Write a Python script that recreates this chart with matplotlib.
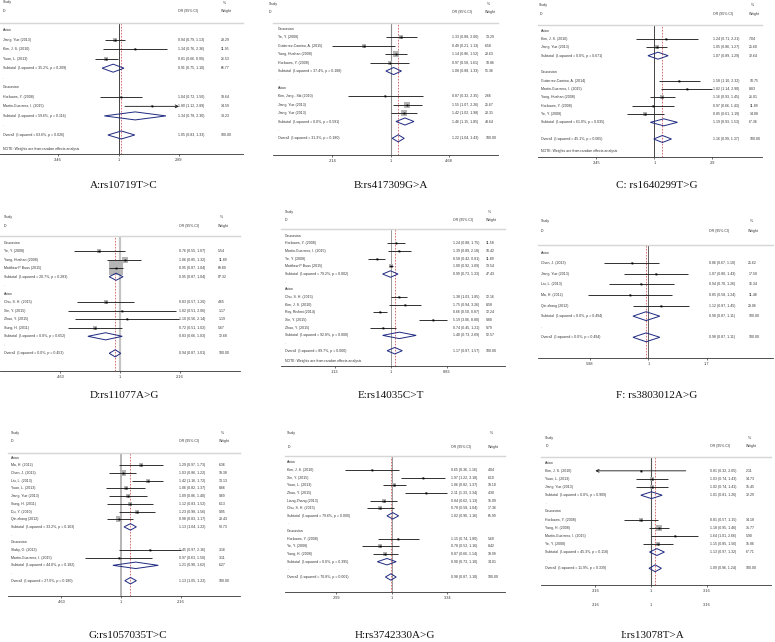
import numpy as np
import matplotlib
matplotlib.use("Agg")
import matplotlib.pyplot as plt
from matplotlib.patches import Polygon
from matplotlib.transforms import blended_transform_factory

plt.rcParams['font.family'] = ['Liberation Sans', 'DejaVu Sans']

# ---------------- DATA ----------------
# A: rs10719T>C
A_study = ["Jiang, Yue (2013)", "Kim, J. S. (2010)", "Yuan, L. (2013)",
           "Horikawa, Y. (2008)", "Martin-Guerrero, I. (2015)"]
A_group = ["Asian", "Asian", "Asian", "Caucasian", "Caucasian"]
A_or = [0.94, 1.34, 0.81, 1.04, 1.80]
A_lo = [0.79, 0.76, 0.66, 0.72, 1.12]
A_hi = [1.13, 2.36, 0.99, 1.50, 2.89]
A_wt = [28.29, 11.95, 26.53, 18.64, 14.59]
A_sub_or = [0.91, 1.34]
A_sub_lo = [0.75, 0.78]
A_sub_hi = [1.10, 2.30]
A_sub_wt = [66.77, 33.23]
A_sub_i2 = [35.2, 59.6]
A_sub_p = [0.209, 0.116]
A_all = [1.05, 0.83, 1.33]
A_all_i2, A_all_p = 63.6, 0.026
A_ticks = [0.346, 1, 2.89]
A_ticklabels = [".346", "1", "2.89"]

# B: rs417309G>A
B_study = ["Ye, Y. (2008)", "Gutierrez-Camino, A. (2015)", "Yang, Huahan (2008)",
           "Horikawa, Y. (2008)", "Kim, Jong - Sik (2010)", "Jiang, Yue (2013)",
           "Jiang, Yue (2013)"]
B_group = ["Caucasian"] * 4 + ["Asian"] * 3
B_or = [1.33, 0.49, 1.14, 0.97, 0.87, 1.55, 1.42]
B_lo = [0.88, 0.21, 0.86, 0.58, 0.32, 1.07, 1.02]
B_hi = [2.00, 1.13, 1.52, 1.61, 2.35, 2.26, 1.98]
B_wt = [13.29, 6.58, 20.63, 10.86, 2.66, 25.67, 20.31]
B_sub_or = [1.08, 1.46]
B_sub_lo = [0.88, 1.15]
B_sub_hi = [1.33, 1.85]
B_sub_wt = [51.36, 48.64]
B_sub_i2 = [37.4, 0.0]
B_sub_p = [0.188, 0.591]
B_all = [1.22, 1.04, 1.43]
B_all_i2, B_all_p = 31.3, 0.180
B_ticks = [0.214, 1, 4.68]
B_ticklabels = [".214", "1", "4.68"]

# C: rs1640299T>G
C_study = ["Kim, J. S. (2010)", "Jiang, Yue (2013)", "Gutierrez-Camino, A. (2014)",
           "Martin-Guerrero, I. (2015)", "Yang, Huahan (2008)", "Horikawa, Y. (2008)",
           "Ye, Y. (2008)"]
C_group = ["Asian"] * 2 + ["Caucasian"] * 5
C_or = [1.24, 1.05, 1.58, 1.82, 1.16, 0.97, 0.85]
C_lo = [0.71, 0.86, 1.10, 1.14, 0.93, 0.66, 0.61]
C_hi = [2.21, 1.27, 2.32, 2.90, 1.45, 1.43, 1.19]
C_wt = [7.04, 25.60, 10.75, 8.83, 21.01, 11.89, 14.88]
C_sub_or = [1.07, 1.19]
C_sub_lo = [0.89, 0.93]
C_sub_hi = [1.29, 1.53]
C_sub_wt = [32.64, 67.36]
C_sub_i2 = [0.0, 61.0]
C_sub_p = [0.671, 0.035]
C_all = [1.16, 0.99, 1.37]
C_all_i2, C_all_p = 45.1, 0.065
C_ticks = [0.345, 1, 2.9]
C_ticklabels = [".345", "1", "2.9"]

# D: rs11077A>G
D_study = ["Ye, Y. (2008)", "Yang, Huahan (2008)", "Matthew P Buas (2015)",
           "Chu, S. H. (2015)", "Xie, Y. (2015)", "Zhao, Y. (2015)", "Sung, H. (2011)"]
D_group = ["Caucasian"] * 3 + ["Asian"] * 4
D_or = [0.76, 1.06, 0.95, 0.83, 1.02, 1.10, 0.72]
D_lo = [0.55, 0.85, 0.87, 0.57, 0.51, 0.56, 0.51]
D_hi = [1.07, 1.32, 1.04, 1.20, 2.06, 2.14, 1.02]
D_wt = [5.54, 11.89, 69.89, 4.65, 1.17, 1.19, 5.67]
D_sub_or = [0.95, 0.83]
D_sub_lo = [0.87, 0.66]
D_sub_hi = [1.04, 1.03]
D_sub_wt = [87.32, 12.68]
D_sub_i2 = [20.7, 0.0]
D_sub_p = [0.283, 0.652]
D_all = [0.94, 0.87, 1.01]
D_all_i2, D_all_p = 0.0, 0.453
D_ticks = [0.463, 1, 2.16]
D_ticklabels = [".463", "1", "2.16"]

# E: rs14035C>T
E_study = ["Horikawa, Y. (2008)", "Martin-Guerrero, I. (2015)", "Ye, Y. (2008)",
           "Matthew P Buas (2015)", "Chu, S. H. (2015)", "Kim, J. S. (2010)",
           "Roy, Rishmi (2014)", "Xie, Y. (2015)", "Zhao, Y. (2015)"]
E_group = ["Caucasian"] * 4 + ["Asian"] * 5
E_or = [1.24, 1.39, 0.58, 1.00, 1.38, 1.75, 0.66, 5.19, 0.74]
E_lo = [0.88, 0.89, 0.42, 0.92, 1.03, 0.94, 0.50, 3.06, 0.45]
E_hi = [1.75, 2.18, 0.81, 1.09, 1.85, 3.26, 0.87, 8.80, 1.21]
E_wt = [11.58, 10.42, 11.89, 13.54, 12.16, 8.58, 12.24, 9.80, 9.79]
E_sub_or = [0.99, 1.40]
E_sub_lo = [0.73, 0.73]
E_sub_hi = [1.33, 2.69]
E_sub_wt = [47.43, 52.57]
E_sub_i2 = [79.2, 92.8]
E_sub_p = [0.002, 0.000]
E_all = [1.17, 0.87, 1.57]
E_all_i2, E_all_p = 89.7, 0.000
E_ticks = [0.113, 1, 8.83]
E_ticklabels = [".113", "1", "8.83"]

# F: rs3803012A>G
F_study = ["Chen, J. (2013)", "Jiang, Yue (2013)", "Liu, L. (2013)",
           "Ma, H. (2012)", "Qin zhang (2012)"]
F_group = ["Asian"] * 5
F_or = [0.86, 1.07, 0.94, 0.85, 1.12]
F_lo = [0.67, 0.80, 0.70, 0.58, 0.87]
F_hi = [1.10, 1.43, 1.26, 1.24, 1.45]
F_wt = [25.62, 17.50, 16.34, 11.48, 29.06]
F_sub_or = [0.98]
F_sub_lo = [0.87]
F_sub_hi = [1.11]
F_sub_wt = [100.00]
F_sub_i2 = [0.0]
F_sub_p = [0.494]
F_all = [0.98, 0.87, 1.11]
F_all_i2, F_all_p = 0.0, 0.494
F_ticks = [0.588, 1, 1.7]
F_ticklabels = [".588", "1", "1.7"]

# G: rs1057035T>C
G_study = ["Ma, H. (2012)", "Chen, J. (2013)", "Liu, L. (2013)", "Yuan, L. (2013)",
           "Jiang, Yue (2013)", "Sung, H. (2011)", "Du, Y. (2010)", "Qin zhang (2012)",
           "Slaby, O. (2013)", "Martin-Guerrero, I. (2015)"]
G_group = ["Asian"] * 8 + ["Caucasian"] * 2
G_or = [1.29, 1.03, 1.42, 1.06, 1.09, 1.12, 1.23, 0.98, 1.45, 0.97]
G_lo = [0.97, 0.86, 1.16, 0.82, 0.86, 0.83, 0.98, 0.83, 0.97, 0.63]
G_hi = [1.73, 1.22, 1.72, 1.37, 1.40, 1.52, 1.56, 1.17, 2.16, 1.50]
G_wt = [6.36, 19.38, 13.13, 8.66, 9.69, 6.13, 9.95, 20.43, 3.16, 3.11]
G_sub_or = [1.13, 1.21]
G_sub_lo = [1.04, 0.90]
G_sub_hi = [1.22, 1.62]
G_sub_wt = [93.73, 6.27]
G_sub_i2 = [33.2, 44.0]
G_sub_p = [0.163, 0.182]
G_all = [1.13, 1.05, 1.22]
G_all_i2, G_all_p = 27.0, 0.180
G_ticks = [0.463, 1, 2.16]
G_ticklabels = [".463", "1", "2.16"]

# H: rs3742330A>G
H_study = ["Kim, J. S. (2010)", "Xie, Y. (2015)", "Yuan, L. (2013)", "Zhao, Y. (2015)",
           "Liang Zhang (2013)", "Chu, S. H. (2015)", "Horikawa, Y. (2008)",
           "Ye, Y. (2008)", "Yang, H. (2008)"]
H_group = ["Asian"] * 6 + ["Caucasian"] * 3
H_or = [0.65, 1.97, 1.06, 2.11, 0.84, 0.78, 1.15, 0.78, 0.87]
H_lo = [0.36, 1.22, 0.82, 1.33, 0.62, 0.58, 0.74, 0.52, 0.66]
H_hi = [1.16, 3.18, 1.37, 3.34, 1.13, 1.04, 1.80, 1.16, 1.14]
H_wt = [4.04, 6.10, 19.10, 4.30, 15.09, 17.36, 5.60, 8.42, 19.99]
H_sub_or = [1.02, 0.90]
H_sub_lo = [0.90, 0.73]
H_sub_hi = [1.16, 1.10]
H_sub_wt = [65.99, 34.01]
H_sub_i2 = [79.6, 0.0]
H_sub_p = [0.000, 0.395]
H_all = [0.98, 0.87, 1.10]
H_all_i2, H_all_p = 70.8, 0.001
H_ticks = [0.299, 1, 3.34]
H_ticklabels = [".299", "1", "3.34"]

# I: rs13078T>A
I_study = ["Kim, J. S. (2010)", "Yuan, L. (2013)", "Jiang, Yue (2013)",
           "Horikawa, Y. (2008)", "Yang, H. (2008)", "Martin-Guerrero, I. (2015)",
           "Ye, Y. (2008)"]
I_group = ["Asian"] * 3 + ["Caucasian"] * 4
I_or = [0.81, 1.03, 1.02, 0.81, 1.18, 1.64, 1.15]
I_lo = [0.32, 0.74, 0.74, 0.57, 0.95, 1.01, 0.85]
I_hi = [2.05, 1.43, 1.41, 1.15, 1.46, 2.66, 1.56]
I_wt = [2.11, 14.73, 15.45, 14.18, 31.77, 5.90, 15.86]
I_sub_or = [1.01, 1.13]
I_sub_lo = [0.81, 0.97]
I_sub_hi = [1.26, 1.32]
I_sub_wt = [32.29, 67.71]
I_sub_i2 = [0.0, 45.3]
I_sub_p = [0.909, 0.118]
I_all = [1.09, 0.96, 1.24]
I_all_i2, I_all_p = 11.9, 0.339
I_ticks = [0.316, 1, 3.16]
I_ticklabels = [".316", "1", "3.16"]

TITLES = ["A:rs10719T>C", "B:rs417309G>A", "C: rs1640299T>G",
          "D:rs11077A>G", "E:rs14035C>T", "F: rs3803012A>G",
          "G:rs1057035T>C", "H:rs3742330A>G", "I:rs13078T>A"]
NOTE = "NOTE: Weights are from random effects analysis"

DATA = {
    'A': (A_study, A_group, A_or, A_lo, A_hi, A_wt, A_sub_or, A_sub_lo, A_sub_hi, A_sub_wt, A_sub_i2, A_sub_p, A_all, A_all_i2, A_all_p, A_ticks, A_ticklabels),
    'B': (B_study, B_group, B_or, B_lo, B_hi, B_wt, B_sub_or, B_sub_lo, B_sub_hi, B_sub_wt, B_sub_i2, B_sub_p, B_all, B_all_i2, B_all_p, B_ticks, B_ticklabels),
    'C': (C_study, C_group, C_or, C_lo, C_hi, C_wt, C_sub_or, C_sub_lo, C_sub_hi, C_sub_wt, C_sub_i2, C_sub_p, C_all, C_all_i2, C_all_p, C_ticks, C_ticklabels),
    'D': (D_study, D_group, D_or, D_lo, D_hi, D_wt, D_sub_or, D_sub_lo, D_sub_hi, D_sub_wt, D_sub_i2, D_sub_p, D_all, D_all_i2, D_all_p, D_ticks, D_ticklabels),
    'E': (E_study, E_group, E_or, E_lo, E_hi, E_wt, E_sub_or, E_sub_lo, E_sub_hi, E_sub_wt, E_sub_i2, E_sub_p, E_all, E_all_i2, E_all_p, E_ticks, E_ticklabels),
    'F': (F_study, F_group, F_or, F_lo, F_hi, F_wt, F_sub_or, F_sub_lo, F_sub_hi, F_sub_wt, F_sub_i2, F_sub_p, F_all, F_all_i2, F_all_p, F_ticks, F_ticklabels),
    'G': (G_study, G_group, G_or, G_lo, G_hi, G_wt, G_sub_or, G_sub_lo, G_sub_hi, G_sub_wt, G_sub_i2, G_sub_p, G_all, G_all_i2, G_all_p, G_ticks, G_ticklabels),
    'H': (H_study, H_group, H_or, H_lo, H_hi, H_wt, H_sub_or, H_sub_lo, H_sub_hi, H_sub_wt, H_sub_i2, H_sub_p, H_all, H_all_i2, H_all_p, H_ticks, H_ticklabels),
    'I': (I_study, I_group, I_or, I_lo, I_hi, I_wt, I_sub_or, I_sub_lo, I_sub_hi, I_sub_wt, I_sub_i2, I_sub_p, I_all, I_all_i2, I_all_p, I_ticks, I_ticklabels),
}

# ---------------- LAYOUT (pixels) ----------------
LAYOUT = {
    'A': dict(xl=0, xr=243, yh=23, ya=154.3, y0=30, dy=9.545, xn=118.5, s=57.0,
              xh=3, xt=3, xo=178, xw=221, ys=2.5, yi=10.7, lab=(124, 186), k=0.62,
              null=('#444444', 0.7), note=12.5, arrows={4: 'right'}),
    'B': dict(xl=273, xr=498, yh=23, ya=155, y0=29, dy=8.41, xn=390.7, s=37.8,
              xh=269, xt=278, xo=452.3, xw=485.3, ys=4, yi=12, lab=(390.7, 186), k=1.32,
              null=('#8c8c8c', 0.8), note=None, arrows={}),
    'C': dict(xl=537.7, xr=762, yh=24.7, ya=156.7, y0=30.7, dy=8.33, xn=654.3, s=54.5,
              xh=539.3, xt=541, xo=713.3, xw=749.3, ys=5.3, yi=14, lab=(656.7, 186), k=0.8,
              null=('#444444', 0.7), note=14.5, arrows={}),
    'D': dict(xl=0, xr=240, yh=236, ya=371.3, y0=242.7, dy=8.51, xn=120, s=77.3,
              xh=4, xt=4, xo=179, xw=218.3, ys=216.7, yi=225.7, lab=(124, 395), k=1.59,
              null=('#c4c4c4', 1.6), note=None, arrows={}),
    'E': dict(xl=280.7, xr=504.7, yh=229, ya=366, y0=235.7, dy=7.667, xn=390.7, s=25.71,
              xh=284.7, xt=284.7, xo=453, xw=485.7, ys=212, yi=219.7, lab=(391.3, 395), k=0.85,
              null=('#9a9a9a', 0.7), note=16.4, arrows={}),
    'F': dict(xl=537.7, xr=772.5, yh=245, ya=358.3, y0=252.7, dy=10.575, xn=648.3, s=110.0,
              xh=541, xt=541, xo=709.3, xw=748.3, ys=220.7, yi=231, lab=(656.7, 395), k=0.55,
              null=('#444444', 0.6), note=None, arrows={}),
    'G': dict(xl=8.3, xr=240, yh=453.3, ya=595.7, y0=457.7, dy=7.6875, xn=121.0, s=77.3,
              xh=11, xt=11, xo=179.3, xw=219, ys=432.7, yi=441, lab=(127.7, 635), k=1.34,
              null=('#b4b4b4', 1.4), note=None, arrows={}),
    'H': dict(xl=285.3, xr=505.3, yh=456, ya=592.3, y0=462.3, dy=7.647, xn=391.8, s=46.0,
              xh=287.3, xt=287.3, xo=451.3, xw=488, ys=432.7, yi=446.7, lab=(395.3, 635), k=1.07,
              null=('#999999', 0.7), note=None, arrows={}),
    'I': dict(xl=541, xr=771, yh=456.7, ya=585.3, y0=462.7, dy=8.123, xn=651, s=48.35,
              xh=545.3, xt=545.3, xo=710, xw=746, ys=437.7, yi=446, lab=(652.7, 635), k=1.19,
              null=('#555555', 0.8), note=None, arrows={0: 'left'}, tick2=605),
}

W, H = 775, 642
FS = 2.55
TC = '#333333'
LC = '#222222'
DC = '#1f2a80'
BOXC = '#b5b5b5'
fig = plt.figure(figsize=(W / 100, H / 100), dpi=100)
fig.patch.set_facecolor('white')


def fy(py):
    return 1 - py / H


def draw_panel(key, title):
    (study, group, o, lo, hi, wt, s_or, s_lo, s_hi, s_wt, s_i2, s_p,
     tot, t_i2, t_p, ticks, ticklabels) = DATA[key]
    L = LAYOUT[key]
    ax = fig.add_axes([L['xl'] / W, fy(L['ya']), (L['xr'] - L['xl']) / W, (L['ya'] - L['yh']) / H])
    ax.set_xscale('log')
    ax.set_xlim(np.exp((L['xl'] - L['xn']) / L['s']), np.exp((L['xr'] - L['xn']) / L['s']))
    ax.set_ylim((L['ya'] - L['y0']) / L['dy'], (L['yh'] - L['y0']) / L['dy'])
    ax.patch.set_alpha(0)
    for sp in ('left', 'right'):
        ax.spines[sp].set_visible(False)
    ax.spines['top'].set_color('#d6d6d6')
    ax.spines['top'].set_linewidth(1.0)
    ax.spines['bottom'].set_color('#333333')
    ax.spines['bottom'].set_linewidth(0.6)
    ax.set_yticks([])
    ax.set_xticks(ticks)
    ax.set_xticklabels(ticklabels)
    ax.minorticks_off()
    ax.tick_params(axis='x', length=1.6, width=0.5, pad=1.3, labelsize=FS + 0.2,
                   colors='#333333')

    tr = blended_transform_factory(fig.transFigure, ax.transData)

    def txt(px, r, s_):
        ax.text(px / W, r, s_, transform=tr, fontsize=FS, va='center', ha='left',
                color=TC, clip_on=False)

    # headers
    for px, py, s_ in [(L['xh'], L['ys'], 'Study'), (L['xh'], L['yi'], 'ID'),
                       (L['xo'], L['yi'], 'OR (95% CI)'), (L['xw'] + 2, L['ys'], '%'),
                       (L['xw'], L['yi'], 'Weight')]:
        fig.text(px / W, fy(py), s_, fontsize=FS, va='center', ha='left', color=TC)

    # reference lines
    nc, nw = L['null']
    ax.axvline(1, color=nc, lw=nw, zorder=1)
    ax.axvline(tot[0], color='#d05a5a', lw=0.6, ls=(0, (2.0, 1.6)), zorder=1.5)

    hdia = 0.42

    def diamond(c, a, b, r):
        ax.add_patch(Polygon([(a, r), (c, r - hdia), (b, r), (c, r + hdia)], closed=True,
                             fill=False, edgecolor=DC, lw=0.7, zorder=4))

    groups = []
    for g in group:
        if g not in groups:
            groups.append(g)
    row = 0
    for gi, g in enumerate(groups):
        txt(L['xt'], row, g)
        row += 1
        for i in range(len(study)):
            if group[i] != g:
                continue
            side = L['arrows'].get(i)
            ax.scatter([o[i]], [row], marker='s', s=(L['k'] * np.sqrt(wt[i]) * 0.72) ** 2,
                       color=BOXC, linewidths=0, zorder=2)
            if side == 'right':
                ax.annotate('', xy=(ticks[-1], row), xytext=(lo[i], row),
                            arrowprops=dict(arrowstyle='->', lw=0.65, color=LC,
                                            shrinkA=0, shrinkB=0, mutation_scale=5), zorder=3)
            elif side == 'left':
                ax.annotate('', xy=(ticks[0], row), xytext=(hi[i], row),
                            arrowprops=dict(arrowstyle='->', lw=0.65, color=LC,
                                            shrinkA=0, shrinkB=0, mutation_scale=5), zorder=3)
            else:
                ax.plot([lo[i], hi[i]], [row, row], color=LC, lw=0.65, zorder=3,
                        solid_capstyle='butt')
            ax.plot([o[i]], [row], marker='s', ms=1.3, color='black', mew=0, zorder=4)
            txt(L['xt'], row, study[i])
            txt(L['xo'], row, f"{o[i]:.2f} ({lo[i]:.2f}, {hi[i]:.2f})")
            txt(L['xw'], row, f"{wt[i]:.2f}")
            row += 1
        diamond(s_or[gi], s_lo[gi], s_hi[gi], row)
        txt(L['xt'], row, f"Subtotal  (I-squared = {s_i2[gi]:.1f}%, p = {s_p[gi]:.3f})")
        txt(L['xo'], row, f"{s_or[gi]:.2f} ({s_lo[gi]:.2f}, {s_hi[gi]:.2f})")
        txt(L['xw'], row, f"{s_wt[gi]:.2f}")
        row += 1
        txt(L['xt'], row, '.')
        row += 1
    diamond(tot[0], tot[1], tot[2], row)
    txt(L['xt'], row, f"Overall  (I-squared = {t_i2:.1f}%, p = {t_p:.3f})")
    txt(L['xo'], row, f"{tot[0]:.2f} ({tot[1]:.2f}, {tot[2]:.2f})")
    txt(L['xw'], row, "100.00")
    if L['note'] is not None:
        txt(L['xt'], L['note'], NOTE)

    if 'tick2' in L:
        tr2 = blended_transform_factory(ax.transData, fig.transFigure)
        for t, tl in zip(ticks, ticklabels):
            ax.text(t, fy(L['tick2']), tl, transform=tr2, fontsize=FS + 0.2, ha='center',
                    va='center', color=TC, clip_on=False)

    cx, cy = L['lab']
    fig.text(cx / W, fy(cy), title, ha='center', va='center', fontsize=8,
             family='Liberation Serif', color='#111111')


for key, title in zip("ABCDEFGHI", TITLES):
    draw_panel(key, title)

fig.savefig('out.png', dpi=100, facecolor='white')
